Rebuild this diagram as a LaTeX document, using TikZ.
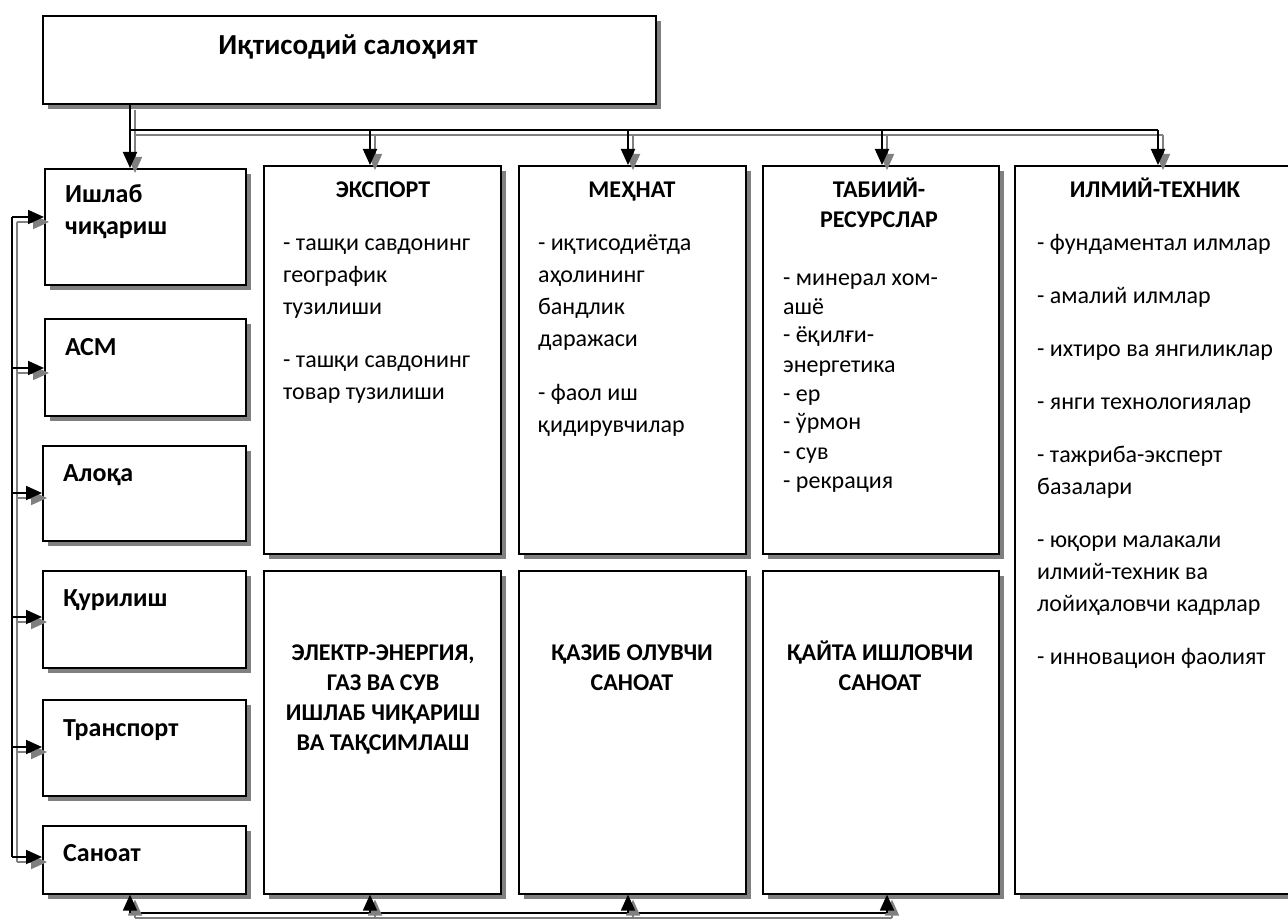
\documentclass[tikz,border=0pt]{standalone}
\usepackage{fontspec}
\setmainfont{Carlito}
\usetikzlibrary{shadows,arrows.meta}
\newcommand\mkbox[5]{\node[boxst,minimum width={(#4-#2)*1pt},minimum height={(#5-#3)*1pt}] (#1) at (#2,#3) {};}
\newcommand\dualdraw[2]{\draw[shadline,#1] #2; \draw[mainline,#1] #2;}
\begin{document}
\begin{tikzpicture}[x=1pt,y=-1pt,
  boxst/.style={draw=black,line width=1.6pt,fill=white,rectangle,inner sep=0pt,anchor=north west,
    drop shadow={shadow xshift=5pt,shadow yshift=-5pt,fill=black!50,opacity=1}},
  mainline/.style={draw=black,line width=1.8pt},
  shadline/.style={draw=black!50,line width=1.8pt,transform canvas={xshift=5pt,yshift=-5pt}},
  tip/.style={-{Triangle[length=16pt,width=14pt]}},
  ttl/.style={inner sep=0pt,anchor=base,font=\bfseries\fontsize{24}{30}\selectfont},
  lbl/.style={inner sep=0pt,anchor=base west,font=\bfseries\fontsize{26}{32}\selectfont},
  bd/.style={inner sep=0pt,anchor=base west,font=\fontsize{24}{32}\selectfont}]
\useasboundingbox (0,0) rectangle (1288,920);
\fill[white] (0,0) rectangle (1288,920);
% boxes
\mkbox{top}{42}{15}{655}{103}
\mkbox{ish}{44}{168}{245}{284}
\mkbox{asm}{44}{318}{245}{415}
\mkbox{alo}{42}{445}{245}{540}
\mkbox{qur}{42}{570}{245}{667}
\mkbox{tra}{42}{699}{245}{795}
\mkbox{san}{42}{825}{245}{893}
\mkbox{exp}{263}{165}{500}{553}
\mkbox{meh}{518}{165}{745}{553}
\mkbox{tab}{762}{165}{998}{553}
\mkbox{ilm}{1014}{165}{1292}{893}
\mkbox{ele}{263}{570}{500}{893}
\mkbox{qaz}{518}{570}{745}{893}
\mkbox{qay}{762}{570}{998}{893}
% texts
\node[ttl,font=\bfseries\fontsize{29}{32}\selectfont] (ttop) at (348,55) {Иқтисодий салоҳият};
\node[lbl] (tish) at (65,203) {\parbox[t]{170pt}{Ишлаб\\чиқариш}};
\node[lbl] (tasm) at (65,355) {АСМ};
\node[lbl] (talo) at (63,481) {Алоқа};
\node[lbl] (tqur) at (63,606) {Қурилиш};
\node[lbl] (ttra) at (63,736) {Транспорт};
\node[lbl] (tsan) at (63,861) {Саноат};
\node[ttl] (texp) at (383,198) {ЭКСПОРТ};
\node[bd] (bexp) at (283,251) {\parbox[t]{215pt}{\raggedright\setlength{\parskip}{21pt}%
- ташқи савдонинг\\географик\\тузилиши\par
- ташқи савдонинг\\товар тузилиши}};
\node[ttl] (tmeh) at (632,198) {МЕҲНАТ};
\node[bd] (bmeh) at (538,251) {\parbox[t]{205pt}{\raggedright\setlength{\parskip}{22pt}%
- иқтисодиётда\\аҳолининг\\бандлик\\даражаси\par
- фаол иш\\қидирувчилар}};
\node[ttl] (ttab) at (879,198) {\parbox[t]{225pt}{\centering\bfseries ТАБИИЙ-\\РЕСУРСЛАР}};
\node[bd,font=\fontsize{24}{29}\selectfont] (btab) at (783,285) {\parbox[t]{210pt}{\raggedright
- минерал хом-\\ашё\\- ёқилғи-\\энергетика\\- ер\\- ўрмон\\- сув\\- рекрация}};
\node[ttl] (tilm) at (1155,198) {ИЛМИЙ-ТЕХНИК};
\node[bd] (bilm) at (1037,251) {\parbox[t]{250pt}{\raggedright\setlength{\parskip}{21pt}%
- фундаментал илмлар\par
- амалий илмлар\par
- ихтиро ва янгиликлар\par
- янги технологиялар\par
- тажриба-эксперт\\базалари\par
- юқори малакали\\илмий-техник ва\\лойиҳаловчи кадрлар\par
- инновацион фаолият}};
\node[ttl] (tele) at (383,660) {\parbox[t]{232pt}{\centering\bfseries ЭЛЕКТР-ЭНЕРГИЯ,\\ГАЗ ВА СУВ\\ИШЛАБ ЧИҚАРИШ\\ВА ТАҚСИМЛАШ}};
\node[ttl] (tqaz) at (632,660) {\parbox[t]{225pt}{\centering\bfseries ҚАЗИБ ОЛУВЧИ\\САНОАТ}};
\node[ttl] (tqay) at (880,660) {\parbox[t]{232pt}{\centering\bfseries ҚАЙТА ИШЛОВЧИ\\САНОАТ}};
% connector points
\coordinate (t1) at (130,130);
\coordinate (t2) at (370,130);
\coordinate (t3) at (628,130);
\coordinate (t4) at (882,130);
\coordinate (t5) at (1158,130);
\coordinate (l1) at (12,217);
\coordinate (l2) at (12,368);
\coordinate (l3) at (12,493);
\coordinate (l4) at (12,617);
\coordinate (l5) at (12,747);
\coordinate (l6) at (12,857);
\coordinate (b1) at (130,913);
\coordinate (b2) at (370,913);
\coordinate (b3) at (628,913);
\coordinate (b4) at (887,913);
% top connectors
\dualdraw{}{(t1 |- top.south) -- (t1) -- (t5)}
\dualdraw{tip}{(t1) -- (t1 |- ish.north)}
\dualdraw{tip}{(t2) -- (t2 |- exp.north)}
\dualdraw{tip}{(t3) -- (t3 |- meh.north)}
\dualdraw{tip}{(t4) -- (t4 |- tab.north)}
\dualdraw{tip}{(t5) -- (t5 |- ilm.north)}
% left connectors
\dualdraw{}{(l1) -- (l6)}
\dualdraw{tip}{(l1) -- (l1 -| ish.west)}
\dualdraw{tip}{(l2) -- (l2 -| asm.west)}
\dualdraw{tip}{(l3) -- (l3 -| alo.west)}
\dualdraw{tip}{(l4) -- (l4 -| qur.west)}
\dualdraw{tip}{(l5) -- (l5 -| tra.west)}
\dualdraw{tip}{(l6) -- (l6 -| san.west)}
% bottom connectors
\dualdraw{}{(b1) -- (b4)}
\dualdraw{tip}{(b1) -- (b1 |- san.south)}
\dualdraw{tip}{(b2) -- (b2 |- ele.south)}
\dualdraw{tip}{(b3) -- (b3 |- qaz.south)}
\dualdraw{tip}{(b4) -- (b4 |- qay.south)}
\end{tikzpicture}
\end{document}
